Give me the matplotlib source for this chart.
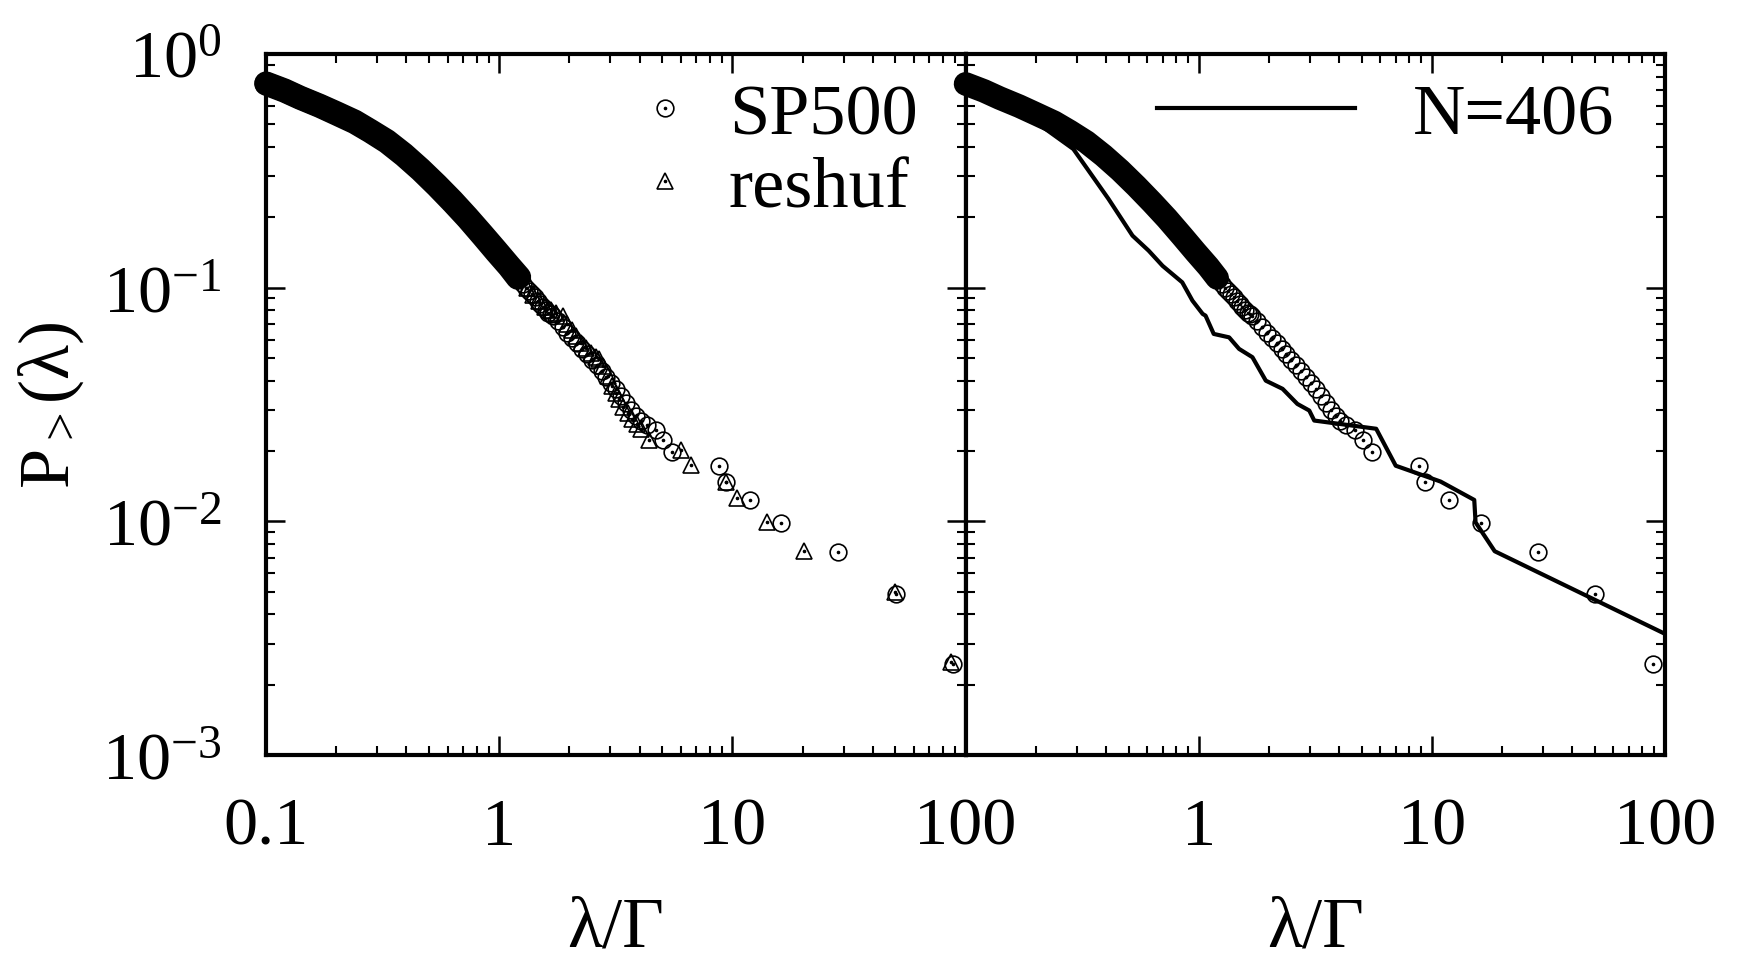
import matplotlib
matplotlib.use('Agg')
import matplotlib.pyplot as plt

plt.rcParams['font.family'] = ['Liberation Serif', 'DejaVu Serif']
plt.rcParams['mathtext.fontset'] = 'custom'
plt.rcParams['mathtext.rm'] = 'Liberation Serif'
plt.rcParams['mathtext.it'] = 'Liberation Serif:italic'

# SP500 eigenvalue cumulative distribution
sp500_lam = [0.10, 0.12, 0.14, 0.17, 0.20, 0.24, 0.28, 0.33, 0.39, 0.46, 0.54,
             0.63, 0.73, 0.85, 0.97, 1.10, 1.20,
             1.26, 1.30, 1.34, 1.38, 1.42, 1.46, 1.50, 1.54, 1.58, 1.62, 1.66, 1.70,
             1.78, 1.87, 1.96, 2.06, 2.16,
             2.27, 2.38, 2.50, 2.62, 2.75, 2.88, 3.02, 3.17, 3.33, 3.50, 3.68,
             3.87, 4.05, 4.30,
             4.70, 5.06, 5.53, 8.77, 9.36, 11.9, 16.2, 28.4, 50.1, 88.5]
sp500_p = [0.745, 0.695, 0.648, 0.598, 0.555, 0.510, 0.466, 0.420, 0.368, 0.318, 0.272,
           0.232, 0.198, 0.166, 0.142, 0.123, 0.110,
           0.104, 0.100, 0.097, 0.094, 0.091, 0.088, 0.085, 0.083, 0.080, 0.078, 0.077, 0.0755,
           0.072, 0.068, 0.064, 0.061, 0.058,
           0.0548, 0.052, 0.049, 0.0465, 0.0440, 0.0415, 0.0392, 0.0368, 0.0345, 0.0322, 0.0300,
           0.0283, 0.0270, 0.0258,
           0.0246, 0.0222, 0.0198, 0.0173, 0.0148, 0.0123, 0.00985, 0.0074, 0.0049, 0.00246]

# reshuffled data
reshuf_lam = [0.10, 0.12, 0.14, 0.17, 0.20, 0.24, 0.28, 0.33, 0.39, 0.46, 0.54,
              0.63, 0.73, 0.85, 0.97, 1.10, 1.22,
              1.32, 1.40, 1.48, 1.57, 1.66, 1.76, 1.87, 1.96, 2.05, 2.14, 2.25,
              2.36, 2.48, 2.60, 2.69, 2.80, 2.92, 3.05, 3.16, 3.27, 3.40, 3.55,
              3.72, 3.90,
              4.06, 4.37, 6.04, 6.63, 9.36, 10.5, 14.1, 20.2, 50.0, 87.0]
reshuf_p = [0.750, 0.700, 0.652, 0.602, 0.560, 0.515, 0.470, 0.425, 0.373, 0.322, 0.276,
            0.236, 0.201, 0.169, 0.145, 0.125, 0.111,
            0.100, 0.093, 0.088, 0.083, 0.080, 0.078, 0.0757, 0.070, 0.066, 0.0621, 0.058,
            0.055, 0.0525, 0.0505, 0.0495, 0.046, 0.042, 0.038, 0.0355, 0.0334, 0.031, 0.029,
            0.0274, 0.0260,
            0.0248, 0.0222, 0.0201, 0.0174, 0.0148, 0.01255, 0.00997, 0.0075, 0.00497, 0.00249]

# N=406 curve
n406_lam = [0.10, 0.17, 0.29, 0.41, 0.52, 0.61, 0.70, 0.85, 0.94, 1.04, 1.07, 1.16,
            1.35, 1.49, 1.70, 1.94, 2.29, 2.65, 2.98, 3.13, 5.77, 7.0, 10.9, 15.2,
            15.4, 18.6, 100.0]
n406_p = [0.745, 0.575, 0.392, 0.240, 0.167, 0.144, 0.124, 0.1054, 0.088, 0.0772, 0.0759,
          0.0634, 0.0613, 0.0547, 0.0504, 0.040, 0.0369, 0.0318, 0.0298, 0.0270, 0.0249,
          0.0173, 0.0148, 0.01235, 0.0099, 0.00745, 0.0033]

n_dense = 17  # first points are packed so tightly they merge into a black band

xticks = [0.1, 1, 10, 100]
xlabels_left = ['0.1', '1', '10', '100']
xlabels_right = ['', '1', '10', '100']
yticks = [1e-3, 1e-2, 1e-1, 1]
ylabels = [r'$\mathregular{10^{-3}}$', r'$\mathregular{10^{-2}}$',
           r'$\mathregular{10^{-1}}$', r'$\mathregular{10^{0}}$']

fig, (ax1, ax2) = plt.subplots(1, 2, sharey=True, figsize=(17.38, 9.70), dpi=100)
fig.subplots_adjust(left=0.1531, right=0.958, bottom=0.2206, top=0.9433, wspace=0)


def points(ax, x, y, marker, ms):
    ax.plot(x[:n_dense], y[:n_dense], color='k', lw=17, solid_capstyle='round',
            solid_joinstyle='round', clip_on=False)
    h = ax.plot(x, y, marker, ls='none', mfc='none', mec='k', ms=ms, mew=1.2,
                clip_on=False)[0]
    d = ax.plot(x, y, 'o', ls='none', color='k', ms=1.6, clip_on=False)[0]
    return (h, d)


h_sp = points(ax1, sp500_lam, sp500_p, 'o', 12)
h_re = points(ax1, reshuf_lam, reshuf_p, '^', 12)
points(ax2, sp500_lam, sp500_p, 'o', 12)
h_n, = ax2.plot(n406_lam, n406_p, color='k', lw=3)

for ax, xl in ((ax1, xlabels_left), (ax2, xlabels_right)):
    ax.set_xscale('log')
    ax.set_yscale('log')
    ax.set_xlim(0.1, 100)
    ax.set_ylim(1e-3, 1)
    ax.set_xticks(xticks, labels=xl)
    ax.tick_params(which='major', direction='in', length=13.5, width=1.8,
                   top=True, right=True, labelsize=49, pad=30)
    ax.tick_params(which='minor', direction='in', length=6.5, width=1.5,
                   top=True, right=True)
    for s in ax.spines.values():
        s.set_linewidth(3)
    ax.set_xlabel('λ/Γ', fontsize=52, labelpad=27)

ax1.set_yticks(yticks, labels=ylabels)
ax1.tick_params(axis='y', which='major', pad=32)
ax2.tick_params(axis='y', labelleft=False)
ax1.set_ylabel(r'$\mathregular{P_{>}}$(λ)', fontsize=52, labelpad=12)

ax1.legend([h_sp, h_re], ['SP500', 'reshuf'], loc='upper left',
           bbox_to_anchor=(0.518, 0.959), frameon=False, fontsize=52,
           handlelength=1.0, handletextpad=0.39, labelspacing=0.1,
           borderpad=0, borderaxespad=0)
ax2.legend([h_n], ['N=406'], loc='upper left',
           bbox_to_anchor=(0.2736, 0.959), frameon=False, fontsize=52,
           handlelength=2.74, handletextpad=0.8, borderpad=0, borderaxespad=0)

fig.savefig('out.png', dpi=100)
